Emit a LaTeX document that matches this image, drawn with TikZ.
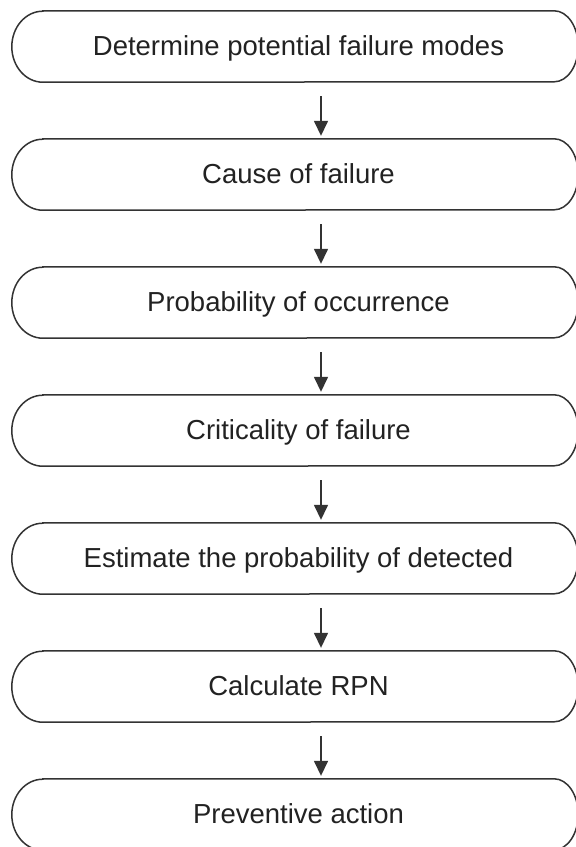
\documentclass[tikz,border=0pt]{standalone}
\usepackage{fontspec}
\setmainfont{Liberation Sans}
\usetikzlibrary{arrows.meta}
\definecolor{inkline}{HTML}{333333}
\definecolor{inktext}{HTML}{222222}
\begin{document}
\begin{tikzpicture}[x=1pt,y=1pt,
  stepbox/.style={minimum width=571pt, minimum height=71pt, inner sep=0pt,
    text=inktext, font=\fontsize{27.5}{30}\selectfont, text height=20pt, text depth=3pt},
  outline/.style={draw=inkline, line width=1.5pt},
  flow/.style={draw=inkline, line width=1.5pt, -{Triangle[width=14pt,length=15pt]}}]
\clip (0,0) rectangle (576,-847);
\fill[white] (0,0) rectangle (576,-847);
\foreach \t [count=\i from 0] in {Determine potential failure modes, Cause of failure, Probability of occurrence, Criticality of failure, Estimate the probability of detected, Calculate RPN, Preventive action}{
  \node[stepbox] (b\i) at (298.5, {-(46.5+128*\i)}) {\t};
  \draw[outline] ([xshift=30pt]b\i.north west) -- ([xshift=-30pt]b\i.north east)
    arc[start angle=90, end angle=-90, x radius=24pt, y radius=35.5pt]
    -- ([xshift=30pt]b\i.south west)
    arc[start angle=270, end angle=90, x radius=31pt, y radius=35.5pt] -- cycle;
}
\foreach \i [evaluate=\i as \j using int(\i+1)] in {0,...,5}{
  \draw[flow] ([xshift=22.5pt,yshift=-14pt]b\i.south) -- ([xshift=22.5pt,yshift=3pt]b\j.north);
}
\end{tikzpicture}
\end{document}
